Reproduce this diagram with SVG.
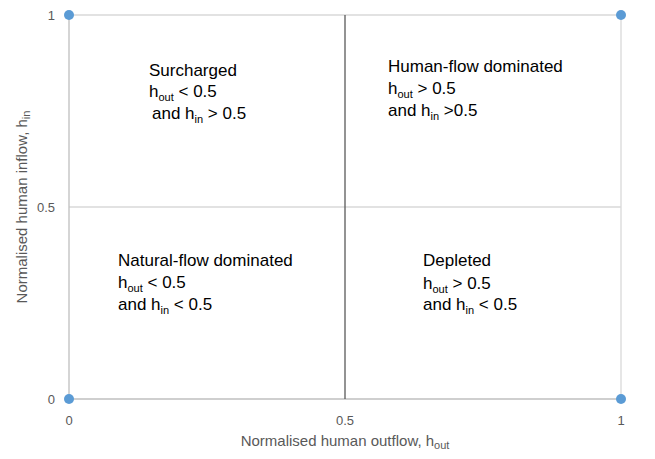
<svg xmlns="http://www.w3.org/2000/svg" width="655" height="459" viewBox="0 0 655 459">
<style>
.grid{stroke:#d9d9d9;stroke-width:1.3;fill:none}
.axis{stroke:#bfbfbf;stroke-width:1.3;fill:none}
.mid{stroke:#595959;stroke-width:1.3;fill:none}
.dot{fill:#5b9bd5}
.tick{font-family:"Liberation Sans",Arial,sans-serif;font-size:13px;fill:#595959}
.title{font-family:"Liberation Sans",Arial,sans-serif;font-size:15px;fill:#595959}
.lab{font-family:"Liberation Sans",Arial,sans-serif;font-size:17px;fill:#000}
.sub{font-size:11px}
</style>
<rect width="655" height="459" fill="#fff"/>
<g id="connectors">
<line class="grid" x1="69" y1="15" x2="621" y2="15"/>
<line class="grid" x1="69" y1="207" x2="621" y2="207"/>
<line class="grid" x1="621" y1="15" x2="621" y2="399"/>
<line class="axis" x1="69" y1="15" x2="69" y2="399"/>
<line class="axis" x1="69" y1="399" x2="621" y2="399"/>
<line class="mid" x1="345" y1="15" x2="345" y2="399"/>
</g>
<g id="dots">
<circle class="dot" cx="69" cy="15" r="5"/>
<circle class="dot" cx="621" cy="15" r="5"/>
<circle class="dot" cx="69" cy="399" r="5"/>
<circle class="dot" cx="621" cy="399" r="5"/>
</g>
<g id="ticks">
<text class="tick" x="55" y="20" text-anchor="end">1</text>
<text class="tick" x="55" y="212" text-anchor="end">0.5</text>
<text class="tick" x="55" y="404" text-anchor="end">0</text>
<text class="tick" x="69" y="425" text-anchor="middle">0</text>
<text class="tick" x="345" y="425" text-anchor="middle">0.5</text>
<text class="tick" x="621" y="425" text-anchor="middle">1</text>
</g>
<g id="axis-titles">
<text class="title" x="345" y="446" text-anchor="middle">Normalised human outflow, h<tspan class="sub" dy="3">out</tspan></text>
<text class="title" transform="translate(27,207) rotate(-90)" text-anchor="middle">Normalised human inflow, h<tspan class="sub" dy="3">in</tspan></text>
</g>
<g id="surcharged">
<text class="lab" x="149" y="76">Surcharged</text>
<text class="lab" x="149" y="97">h<tspan class="sub" dy="4">out</tspan><tspan dy="-4"> &lt; 0.5</tspan></text>
<text class="lab" x="152" y="119">and h<tspan class="sub" dy="4">in</tspan><tspan dy="-4"> &gt; 0.5</tspan></text>
</g>
<g id="human-flow">
<text class="lab" x="388" y="72">Human-flow dominated</text>
<text class="lab" x="388" y="94">h<tspan class="sub" dy="4">out</tspan><tspan dy="-4"> &gt; 0.5</tspan></text>
<text class="lab" x="388" y="116">and h<tspan class="sub" dy="4">in</tspan><tspan dy="-4"> &gt;0.5</tspan></text>
</g>
<g id="natural-flow">
<text class="lab" x="118" y="266">Natural-flow dominated</text>
<text class="lab" x="118" y="288">h<tspan class="sub" dy="4">out</tspan><tspan dy="-4"> &lt; 0.5</tspan></text>
<text class="lab" x="118" y="310">and h<tspan class="sub" dy="4">in</tspan><tspan dy="-4"> &lt; 0.5</tspan></text>
</g>
<g id="depleted">
<text class="lab" x="423" y="266">Depleted</text>
<text class="lab" x="423" y="289">h<tspan class="sub" dy="4">out</tspan><tspan dy="-4"> &gt; 0.5</tspan></text>
<text class="lab" x="423" y="310">and h<tspan class="sub" dy="4">in</tspan><tspan dy="-4"> &lt; 0.5</tspan></text>
</g>
</svg>
